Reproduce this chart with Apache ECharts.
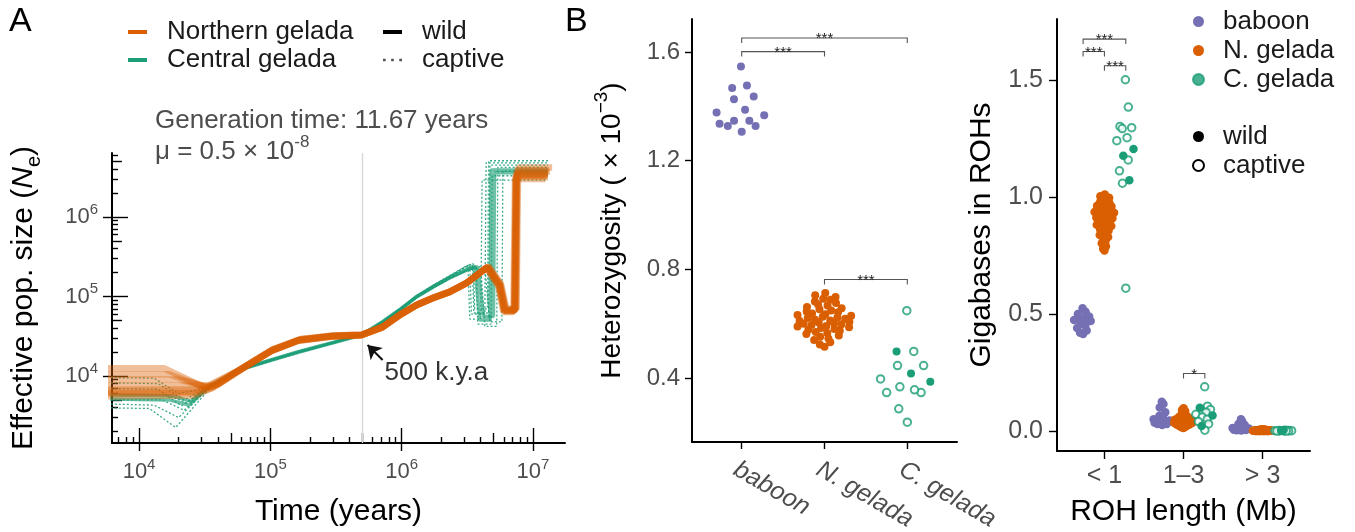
<!DOCTYPE html>
<html>
<head>
<meta charset="utf-8">
<script src="https://cdn.jsdelivr.net/npm/echarts@6/dist/echarts.min.js"></script>
<style>
  html, body { margin: 0; padding: 0; background: #fff; }
  #chart { width: 1355px; height: 532px; }
</style>
</head>
<body>
<div id="chart"></div>
<script>
// ---------------- Panel A: PSMC trajectories, points are [years, Ne] ----------------
const northernWild = [
  [[4000,6700],[28000,6800],[37000,7500],[58000,11900],[103000,21000],[166000,28400],[297000,31800],[495000,32800],[716000,41300],[966000,58500],[1300000,78000],[1730000,95700],[2320000,114000],[3130000,148000],[4500000,235000],[5600000,140000],[6100000,67000],[7300000,67000],[7500000,3400000],[13000000,3400000]],
  [[4000,12500],[15500,12500],[31000,7300],[40000,7900],[60000,12400],[105000,21800],[170000,29200],[300000,32400],[500000,33300],[720000,41800],[980000,60000],[1320000,80000],[1750000,97500],[2350000,116000],[3200000,152000],[4600000,240000],[5700000,145000],[6300000,69000],[7500000,69000],[7700000,4200000],[14000000,4200000]],
  [[4000,6000],[26000,6100],[36000,7000],[57000,11400],[100000,20300],[162000,27600],[292000,31200],[490000,32400],[710000,40600],[955000,57200],[1280000,76500],[1700000,94000],[2280000,112000],[3080000,145000],[4400000,228000],[5450000,135000],[5950000,64000],[7100000,64000],[7300000,3000000],[12500000,3000000]],
  [[4000,9000],[20000,9000],[33000,7400],[59000,12100],[104000,21400],[168000,28800],[299000,32100],[497000,33000],[718000,41700],[972000,59200],[1310000,79000],[1740000,96500],[2330000,115000],[3150000,150000],[4550000,238000],[5650000,142000],[6200000,68000],[7400000,68000],[7600000,3700000],[13500000,3700000]],
  [[4000,5500],[27000,5700],[36500,7200],[57500,11600],[102000,20700],[164000,28000],[295000,31500],[492000,32600],[712000,40900],[960000,57800],[1290000,77200],[1720000,94800],[2300000,113000],[3100000,146000],[4450000,232000],[5500000,138000],[6000000,66000],[7200000,66000],[7400000,3200000],[13000000,3200000]],
  [[4000,10500],[17000,10500],[32000,7200],[40000,7800],[59000,12000],[104000,21300],[167000,28700],[298000,32000],[496000,32900],[717000,41500],[970000,59000],[1305000,78600],[1735000,96000],[2325000,114500],[3140000,149000],[4520000,236000],[5620000,141000],[6150000,70000],[7350000,70000],[7550000,3900000],[13200000,3900000]],
  [[4000,7600],[25000,7600],[35000,7600],[58000,11800],[103000,20900],[165000,28200],[296000,31700],[494000,32700],[715000,41100],[964000,58200],[1295000,77600],[1725000,95200],[2310000,113500],[3120000,147000],[4480000,233000],[5580000,139000],[6080000,65000],[7250000,65000],[7450000,3550000],[13000000,3550000]],
  [[4000,6300],[27000,6400],[36000,7300],[57500,11700],[101000,20600],[163000,27900],[294000,31400],[491000,32500],[713000,40800],[962000,58000],[1292000,77400],[1722000,95000],[2305000,113300],[3110000,146500],[4470000,231000],[5520000,137000],[6050000,66500],[7220000,66500],[7420000,3300000],[12800000,3300000]]
];
const centralWild = [
  [[4000,5200],[17000,5000],[24000,4300],[34000,7300],[58000,11900],[103000,15900],[166000,20000],[297000,26000],[495000,32800],[716000,47700],[966000,67600],[1300000,98600],[1730000,131000],[2320000,171000],[3130000,215000],[3600000,242000],[3940000,50600],[4700000,50600],[4800000,3900000],[13000000,3900000]],
  [[4000,5800],[18000,5600],[25000,4800],[35000,7600],[59000,12100],[105000,16300],[168000,20500],[300000,26500],[500000,33300],[720000,48500],[975000,69000],[1310000,101000],[1750000,134000],[2340000,175000],[3150000,220000],[3800000,236000],[4200000,56000],[5000000,56000],[5100000,3600000],[13000000,3600000]]
];
const centralCaptive = [
  [[4000,9600],[13000,9400],[20000,6000],[33000,7000],[58000,12100],[103000,16400],[166000,20600],[297000,26500],[495000,33000],[716000,48800],[966000,70000],[1300000,103000],[1730000,138000],[2320000,183000],[3000000,235000],[3300000,252000],[3400000,60000],[4300000,60000],[4400000,4800000],[13000000,4800000]],
  [[4000,4000],[12000,3900],[19000,2250],[35000,7100],[58000,11700],[103000,15500],[166000,19600],[297000,25600],[495000,32500],[716000,47000],[966000,66000],[1300000,96500],[1730000,128000],[2320000,167000],[3130000,211000],[3700000,238000],[3800000,45000],[4800000,45000],[4900000,3300000],[13000000,3300000]],
  [[4000,7000],[14000,6800],[21000,4200],[33000,7100],[58000,12000],[103000,16100],[166000,20300],[297000,26200],[495000,32900],[716000,48200],[966000,69000],[1300000,101000],[1730000,136000],[2320000,180000],[3130000,240000],[3500000,262000],[3600000,70000],[4500000,70000],[4600000,5100000],[13000000,5100000]],
  [[4000,5000],[15000,5000],[22000,3700],[34000,7200],[58000,11800],[103000,15700],[166000,19800],[297000,25800],[495000,32600],[716000,47400],[966000,67000],[1300000,97500],[1730000,130000],[2320000,170000],[3130000,214000],[4000000,240000],[4300000,42000],[5300000,42000],[5400000,4200000],[13000000,4200000]],
  [[4000,8300],[14000,8000],[22000,5000],[34000,7200],[58000,12000],[103000,16000],[166000,20200],[297000,26100],[495000,32800],[716000,48000],[966000,68500],[1300000,100000],[1730000,134000],[2320000,176000],[3000000,232000],[3200000,245000],[3300000,52000],[4000000,52000],[4100000,2900000],[13000000,2900000]],
  [[4000,6000],[16000,5800],[23000,4600],[34000,7300],[58000,11900],[103000,15800],[166000,19900],[297000,25900],[495000,32700],[716000,47500],[966000,67300],[1300000,98000],[1730000,130000],[2320000,169000],[3130000,212000],[4300000,230000],[4700000,48000],[5800000,48000],[5900000,3800000],[13000000,3800000]],
  [[4000,4500],[13000,4300],[20000,3000],[34000,7000],[58000,11800],[103000,15900],[166000,20100],[297000,26000],[495000,32800],[716000,48400],[966000,69500],[1300000,102000],[1730000,137000],[2320000,181000],[3130000,238000],[3450000,255000],[3550000,62000],[4600000,62000],[4700000,4500000],[13000000,4500000]]
];
const timeTicks = [1e4, 1e5, 1e6, 1e7];
const neTicks = [1e4, 1e5, 1e6];
const timeRange = [6223, 1.754e7];
const neRange = [1435, 6.38e6];
const splitTime = 5e5;                       // 500 k.y.a reference line
const arrowFrom = [716000, 15900];           // annotation arrow, [years, Ne]
const arrowTo = [550000, 24500];
const arrowText = [741000, 10900];

// ---------------- Panel B: heterozygosity (x 10^-3) ----------------
const hetCategories = ['baboon', 'N. gelada', 'C. gelada'];
const hetBaboon = [1.546,1.467,1.476,1.426,1.436,1.377,1.387,1.367,1.336,1.347,1.347,1.327,1.327,1.306];
const hetNorthern = [0.713,0.705,0.698,0.692,0.688,0.682,0.676,0.671,0.667,0.662,0.657,0.653,0.649,0.645,0.642,0.638,0.635,0.632,0.629,0.626,0.623,0.621,0.618,0.615,0.612,0.610,0.607,0.605,0.602,0.600,0.598,0.595,0.592,0.590,0.587,0.584,0.581,0.578,0.574,0.570,0.566,0.562,0.557,0.552,0.546,0.540,0.532,0.524,0.515];
const hetCentralWild = [0.498,0.417,0.387];
const hetCentralCaptive = [0.648,0.498,0.446,0.446,0.397,0.368,0.347,0.357,0.347,0.287,0.238];
const hetTicks = [0.4, 0.8, 1.2, 1.6];
const hetRange = [0.165, 1.721];
const hetBracketSpans = [[1, 2, 1.601], [1, 3, 1.651], [2, 3, 0.763]];
const hetBracketLabels = ['***', '***', '***'];

// ---------------- Panel C: gigabases in ROHs by ROH length ----------------
const rohCategories = ['< 1', '1\u20133', '> 3'];
const rohBaboon = [
  [0.525,0.51,0.50,0.49,0.485,0.48,0.475,0.47,0.46,0.45,0.44,0.43,0.42,0.415],
  [0.125,0.115,0.10,0.08,0.065,0.055,0.05,0.045,0.04,0.035,0.035,0.03,0.03,0.025],
  [0.05,0.04,0.03,0.025,0.02,0.015,0.012,0.01,0.008,0.006,0.005,0.004,0.003,0.002]
];
const rohNorthern = [
  [1.012,1.004,0.998,0.992,0.987,0.982,0.977,0.972,0.968,0.964,0.960,0.956,0.952,0.949,0.946,0.943,0.940,0.937,0.934,0.931,0.928,0.925,0.922,0.919,0.916,0.913,0.910,0.906,0.902,0.898,0.894,0.890,0.886,0.882,0.877,0.872,0.867,0.862,0.857,0.851,0.845,0.838,0.830,0.822,0.813,0.803,0.790,0.780,0.772],
  [0.097,0.09,0.085,0.08,0.075,0.07,0.068,0.065,0.062,0.06,0.058,0.056,0.055,0.053,0.052,0.05,0.05,0.048,0.047,0.046,0.045,0.045,0.044,0.043,0.042,0.041,0.04,0.04,0.039,0.038,0.037,0.036,0.035,0.035,0.034,0.033,0.032,0.031,0.03,0.029,0.028,0.027,0.026,0.025,0.023,0.021,0.019,0.016,0.012],
  [0.007,0.006,0.006,0.005,0.005,0.005,0.004,0.004,0.004,0.004,0.004,0.003,0.003,0.003,0.003,0.003,0.003,0.003,0.002,0.002,0.002,0.002,0.002,0.002,0.002,0.002,0.002,0.001,0.001,0.001,0.001,0.001,0.001,0.001,0.001,0.001,0.001,0.001,0.0,0.0,0.0,0.0,0.0,0.0,0.0,0.0,0.0,0.0,0.0]
];
const rohCentralWild = [
  [1.207,1.178,1.073],
  [0.099,0.066,0.021],
  [0.004,0.002,0.001]
];
const rohCentralCaptive = [
  [1.503,1.386,1.298,1.303,1.294,1.255,1.242,1.160,1.113,1.060,0.611],
  [0.189,0.106,0.089,0.092,0.080,0.071,0.060,0.050,0.040,0.030,0.003],
  [0.003,0.002,0.002,0.001,0.001,0.0,0.0,0.0,0.0,0.001,0.0]
];
const rohTicks = [0.0, 0.5, 1.0, 1.5];
const rohRange = [-0.086, 1.763];
const rohBracketSpans = [[0.73, 1.27, 1.677], [0.73, 1.0, 1.624], [1.0, 1.27, 1.563], [2.0, 2.27, 0.246]];
const rohBracketLabels = ['***', '***', '***', '*'];

// ---------------- styling ----------------
const FONT = '"Liberation Sans", Arial, Helvetica, sans-serif';
const COL_BABOON = '#7570B3';
const COL_NORTH = '#D95F02';
const COL_CENTRAL = '#1B9E77';
const GREY_TEXT = '#4d4d4d';
const DODGE = 0.27;

const L10 = Math.log10;
const toLog = pts => pts.map(([t, n]) => [L10(t), L10(n)]);

// log-tick positions (annotation_logticks style)
const decades = [3, 4, 5, 6, 7];
const logMajor = decades;
const logMid = decades.map(k => k + L10(5));
const logMinor = [];
decades.forEach(k => [2, 3, 4, 6, 7, 8, 9].forEach(m => logMinor.push(k + L10(m))));

// quasirandom (van der Corput) horizontal offsets, scaled by local density
function vdc(n) {
  let v = 0, d = 1;
  while (n > 0) { d *= 2; v += (n % 2) / d; n = Math.floor(n / 2); }
  return v;
}
function quasiOffsets(values, width) {
  const n = values.length;
  const mean = values.reduce((a, b) => a + b, 0) / n;
  const sd = Math.sqrt(values.reduce((a, b) => a + (b - mean) * (b - mean), 0) / Math.max(1, n - 1));
  let bw = 1.06 * sd * Math.pow(n, -0.2);
  if (!(bw > 1e-4)) bw = 1;
  const dens = values.map(v => values.reduce((s, w) => s + Math.exp(-0.5 * ((v - w) / bw) ** 2), 0));
  const maxD = Math.max(...dens);
  const order = values.map((v, i) => i).sort((a, b) => values[a] - values[b]);
  const off = new Array(n);
  order.forEach((idx, r) => { off[idx] = (vdc(r + 1) * 2 - 1) * width * dens[idx] / maxD; });
  return off;
}
function swarm(values, center, width) {
  const off = quasiOffsets(values, width);
  return values.map((v, i) => [center + off[i], v]);
}
function swarmSplit(wild, captive, center, width) {
  const pts = swarm(wild.concat(captive), center, width);
  return [pts.slice(0, wild.length), pts.slice(wild.length)];
}

// ---------------- axes ----------------
const tickLine = { color: '#000', width: 1.4 };
const logRich = {
  b: { fontSize: 22, color: GREY_TEXT, lineHeight: 30, fontFamily: FONT },
  s: { fontSize: 15, color: GREY_TEXT, lineHeight: 12, verticalAlign: 'top', fontFamily: FONT }
};
const X_A = [L10(timeRange[0]), L10(timeRange[1])];
const Y_A = [L10(neRange[0]), L10(neRange[1])];

function innerLogAxis(dim, values, len) {
  const ext = dim === 'x' ? X_A : Y_A;
  return {
    type: 'value', gridIndex: 0, min: ext[0], max: ext[1],
    position: dim === 'x' ? 'bottom' : 'left',
    axisLine: { show: false, onZero: false },
    axisLabel: { show: false },
    splitLine: { show: false },
    axisTick: { show: true, inside: true, length: len, customValues: values, lineStyle: tickLine }
  };
}

const xAxes = [
  {
    type: 'value', gridIndex: 0, min: X_A[0], max: X_A[1], position: 'bottom',
    axisLine: { show: true, onZero: false, lineStyle: { color: '#000', width: 2 } },
    axisTick: { show: true, inside: false, length: 8, customValues: timeTicks.map(L10), lineStyle: tickLine },
    axisLabel: { customValues: timeTicks.map(L10), margin: 14, formatter: v => '{b|10}{s|' + Math.round(v) + '}', rich: logRich },
    splitLine: { show: false },
    name: 'Time (years)', nameLocation: 'middle', nameGap: 54,
    nameTextStyle: { fontSize: 30, color: '#000', fontFamily: FONT }
  },
  innerLogAxis('x', logMajor, 15),
  innerLogAxis('x', logMid, 10),
  innerLogAxis('x', logMinor, 6),
  {
    type: 'value', gridIndex: 1, min: 0.4, max: 3.6, position: 'bottom',
    axisLine: { show: true, onZero: false, lineStyle: { color: '#000', width: 2 } },
    axisTick: { show: true, length: 7, customValues: [1, 2, 3], lineStyle: tickLine },
    axisLabel: {
      customValues: [1, 2, 3], formatter: v => hetCategories[Math.round(v) - 1],
      rotate: -30, align: 'left', verticalAlign: 'top', margin: 15,
      fontSize: 25, fontStyle: 'italic', color: GREY_TEXT, fontFamily: FONT
    },
    splitLine: { show: false }
  },
  {
    type: 'value', gridIndex: 2, min: 0.4, max: 3.6, position: 'bottom',
    axisLine: { show: true, onZero: false, lineStyle: { color: '#000', width: 2 } },
    axisTick: { show: true, length: 8, customValues: [1, 2, 3], lineStyle: tickLine },
    axisLabel: {
      customValues: [1, 2, 3], formatter: v => rohCategories[Math.round(v) - 1],
      margin: 13, fontSize: 25, color: GREY_TEXT, fontFamily: FONT
    },
    splitLine: { show: false },
    name: 'ROH length (Mb)', nameLocation: 'middle', nameGap: 46,
    nameTextStyle: { fontSize: 30, color: '#000', fontFamily: FONT }
  }
];

const yAxes = [
  {
    type: 'value', gridIndex: 0, min: Y_A[0], max: Y_A[1], position: 'left',
    axisLine: { show: true, onZero: false, lineStyle: { color: '#000', width: 2 } },
    axisTick: { show: true, inside: false, length: 9, customValues: neTicks.map(L10), lineStyle: tickLine },
    axisLabel: { customValues: neTicks.map(L10), margin: 14, formatter: v => '{b|10}{s|' + Math.round(v) + '}', rich: logRich },
    splitLine: { show: false },
    name: 'Effective pop. size ({it|N}{sub|e})', nameLocation: 'middle', nameGap: 68, nameRotate: 90,
    nameTextStyle: {
      fontSize: 30, color: '#000', fontFamily: FONT, lineHeight: 40,
      rich: {
        it: { fontSize: 30, fontStyle: 'italic', color: '#000', fontFamily: FONT, lineHeight: 40 },
        sub: { fontSize: 20, color: '#000', fontFamily: FONT, lineHeight: 18, verticalAlign: 'bottom' }
      }
    }
  },
  innerLogAxis('y', logMajor, 16),
  innerLogAxis('y', logMid, 10),
  innerLogAxis('y', logMinor, 6),
  {
    type: 'value', gridIndex: 1, min: hetRange[0], max: hetRange[1], position: 'left',
    axisLine: { show: true, onZero: false, lineStyle: { color: '#000', width: 2 } },
    axisTick: { show: true, length: 7, customValues: hetTicks, lineStyle: tickLine },
    axisLabel: { customValues: hetTicks, formatter: v => v.toFixed(1), margin: 12, fontSize: 24, color: GREY_TEXT, fontFamily: FONT },
    splitLine: { show: false },
    name: 'Heterozygosity ( \u00d7 10{sup|\u22123})', nameLocation: 'middle', nameGap: 60, nameRotate: 90,
    nameTextStyle: {
      fontSize: 28, color: '#000', fontFamily: FONT, lineHeight: 40,
      rich: { sup: { fontSize: 19, color: '#000', fontFamily: FONT, lineHeight: 16, verticalAlign: 'top' } }
    }
  },
  {
    type: 'value', gridIndex: 2, min: rohRange[0], max: rohRange[1], position: 'left',
    axisLine: { show: true, onZero: false, lineStyle: { color: '#000', width: 2 } },
    axisTick: { show: true, length: 8, customValues: rohTicks, lineStyle: tickLine },
    axisLabel: { customValues: rohTicks, formatter: v => v.toFixed(1), margin: 14, fontSize: 25, color: GREY_TEXT, fontFamily: FONT },
    splitLine: { show: false },
    name: 'Gigabases in ROHs', nameLocation: 'middle', nameGap: 60, nameRotate: 90,
    nameTextStyle: { fontSize: 30, color: '#000', fontFamily: FONT }
  }
];

// ---------------- series ----------------
const series = [];

function psmc(curves, name, lineStyle, extra) {
  curves.forEach((c, i) => {
    series.push(Object.assign({
      type: 'line', name, xAxisIndex: 0, yAxisIndex: 0,
      data: toLog(c), showSymbol: false, symbol: 'none', silent: true,
      lineStyle, z: 2
    }, i === 0 ? (extra || {}) : {}));
  });
}

psmc(centralWild, 'Central gelada', { color: COL_CENTRAL, width: 3.5, opacity: 0.65 }, {
  markLine: {
    silent: true, symbol: 'none', z: 1, animation: false,
    label: { show: false },
    lineStyle: { color: '#d6d6d6', width: 1.3, type: 'solid' },
    data: [{ xAxis: L10(splitTime) }]
  }
});
psmc(centralCaptive, 'Central gelada', { color: COL_CENTRAL, width: 1.3, type: [2, 2], opacity: 0.85 });
psmc(northernWild, 'Northern gelada', { color: COL_NORTH, width: 6.5, opacity: 0.4 });

// annotation arrow and its label, placed in data space
series.push({
  type: 'line', xAxisIndex: 0, yAxisIndex: 0, data: [], silent: true,
  markLine: {
    silent: true, symbol: ['none', 'arrow'], symbolSize: 13, z: 10, animation: false,
    label: { show: false },
    itemStyle: { color: '#111' },
    lineStyle: { color: '#111', width: 2, type: 'solid', opacity: 1 },
    data: [[{ coord: [L10(arrowFrom[0]), L10(arrowFrom[1])] }, { coord: [L10(arrowTo[0]), L10(arrowTo[1])] }]]
  },
  markPoint: {
    silent: true, symbol: 'circle', symbolSize: 0, animation: false,
    label: { show: true, position: 'right', distance: 0, formatter: '500 k.y.a', fontSize: 26, color: '#333', fontFamily: FONT },
    data: [{ coord: [L10(arrowText[0]), L10(arrowText[1])] }]
  }
});
// line-type keys for the legend
series.push({ type: 'line', name: 'wild', xAxisIndex: 0, yAxisIndex: 0, data: [], lineStyle: { color: '#000' } });
series.push({ type: 'line', name: 'captive', xAxisIndex: 0, yAxisIndex: 0, data: [], lineStyle: { color: '#000', type: 'dotted' } });

function dots(name, data, xi, color, open, size) {
  series.push({
    type: 'scatter', name, xAxisIndex: xi, yAxisIndex: xi, data, silent: true,
    symbol: open ? 'emptyCircle' : 'circle', symbolSize: size,
    itemStyle: open ? { color, borderColor: color, borderWidth: 1.4 } : { color, opacity: 1 },
    z: 3
  });
}

// Panel B
const hetW = 0.37;
dots('baboon', swarm(hetBaboon, 1, hetW), 4, COL_BABOON, false, 8);
dots('N. gelada', swarm(hetNorthern, 2, hetW), 4, COL_NORTH, false, 8);
const [hetCw, hetCc] = swarmSplit(hetCentralWild, hetCentralCaptive, 3, hetW);
dots('C. gelada', hetCc, 4, COL_CENTRAL, true, 7.5);
dots('C. gelada', hetCw, 4, COL_CENTRAL, false, 8);

// Panel C
const rohW = 0.13;
rohCategories.forEach((c, k) => {
  const center = k + 1;
  dots('baboon', swarm(rohBaboon[k], center - DODGE, rohW), 5, COL_BABOON, false, 8.5);
  dots('N. gelada', swarm(rohNorthern[k], center, rohW), 5, COL_NORTH, false, 8.5);
  const [w, cpt] = swarmSplit(rohCentralWild[k], rohCentralCaptive[k], center + DODGE, rohW);
  dots('C. gelada', cpt, 5, COL_CENTRAL, true, 7.5);
  dots('C. gelada', w, 5, COL_CENTRAL, false, 8.5);
});

// significance brackets
function brackets(spans, labels, axisIndex) {
  series.push({
    type: 'custom', xAxisIndex: axisIndex, yAxisIndex: axisIndex, silent: true, z: 4,
    data: spans, encode: { x: [0, 1], y: 2 },
    renderItem: (params, api) => {
      const p1 = api.coord([api.value(0), api.value(2)]);
      const p2 = api.coord([api.value(1), api.value(2)]);
      return {
        type: 'group',
        children: [
          { type: 'polyline', shape: { points: [[p1[0], p1[1] + 5], p1, p2, [p2[0], p2[1] + 5]] },
            style: { stroke: '#555', lineWidth: 1.1, fill: null } },
          { type: 'text', style: { text: labels[params.dataIndex], x: (p1[0] + p2[0]) / 2, y: p1[1] + 1,
            align: 'center', verticalAlign: 'middle', fontSize: 15, fill: '#222', fontFamily: FONT } }
        ]
      };
    }
  });
}
brackets(hetBracketSpans, hetBracketLabels, 4);
brackets(rohBracketSpans, rohBracketLabels, 5);

// ---------------- legends ----------------
const legendText = (padLeft, lh) => ({ fontSize: 26, color: '#1a1a1a', fontFamily: FONT, lineHeight: lh, padding: [0, 0, 0, padLeft] });
const legends = [
  {
    left: 128, top: 18, orient: 'vertical', itemWidth: 19, itemHeight: 4, itemGap: 0, padding: 0,
    selectedMode: false, textStyle: legendText(15, 28),
    data: [
      { name: 'Northern gelada', icon: 'rect', itemStyle: { color: COL_NORTH, opacity: 1 } },
      { name: 'Central gelada', icon: 'rect', itemStyle: { color: COL_CENTRAL, opacity: 1 } }
    ]
  },
  {
    left: 383, top: 18, orient: 'vertical', itemWidth: 19, itemHeight: 4, itemGap: 0, padding: 0,
    selectedMode: false, textStyle: legendText(15, 28),
    data: [
      { name: 'wild', icon: 'rect', itemStyle: { color: '#000' } },
      { name: 'captive', icon: 'path://M0,0h2v2h-2zM6,0h2v2h-2zM12,0h2v2h-2z', itemStyle: { color: '#555' } }
    ]
  },
  {
    left: 1192, top: 7, orient: 'vertical', itemWidth: 11, itemHeight: 11, itemGap: 0, padding: 0,
    selectedMode: false, textStyle: legendText(14, 29),
    data: [
      { name: 'baboon', icon: 'circle', itemStyle: { color: COL_BABOON } },
      { name: 'N. gelada', icon: 'circle', itemStyle: { color: COL_NORTH } },
      { name: 'C. gelada', icon: 'circle', itemStyle: { color: COL_CENTRAL } }
    ]
  },
  {
    left: 1192, top: 122, orient: 'vertical', itemWidth: 11, itemHeight: 11, itemGap: 0, padding: 0,
    selectedMode: false, textStyle: legendText(14, 29),
    data: [
      { name: 'wild', icon: 'circle', itemStyle: { color: '#000' } },
      { name: 'captive', icon: 'emptyCircle', itemStyle: { color: '#000' } }
    ]
  }
];

const option = {
  animation: false,
  backgroundColor: '#fff',
  textStyle: { fontFamily: FONT },
  title: [
    { text: 'A', left: 9, top: 5, padding: 0, textStyle: { fontSize: 34, fontWeight: 'normal', color: '#000', fontFamily: FONT } },
    { text: 'B', left: 565, top: 5, padding: 0, textStyle: { fontSize: 34, fontWeight: 'normal', color: '#000', fontFamily: FONT } }
  ],
  grid: [
    { left: 112, top: 153, right: 790, bottom: 89, outerBoundsMode: 'none', containLabel: false },
    { left: 692, top: 19, right: 398, bottom: 90, outerBoundsMode: 'none', containLabel: false },
    { left: 1057, top: 19, right: 45, bottom: 81, outerBoundsMode: 'none', containLabel: false }
  ],
  xAxis: xAxes,
  yAxis: yAxes,
  legend: legends,
  graphic: [
    { type: 'text', left: 155, top: 108, silent: true,
      style: { text: 'Generation time: 11.67 years', fontSize: 26, fill: GREY_TEXT, fontFamily: FONT } },
    { type: 'text', left: 155, top: 134, silent: true,
      style: {
        text: '{m|\u03bc = 0.5 \u00d7 10}{s|-8}',
        rich: {
          m: { fontSize: 26, fill: GREY_TEXT, color: GREY_TEXT, fontFamily: FONT, lineHeight: 36 },
          s: { fontSize: 17, fill: GREY_TEXT, color: GREY_TEXT, fontFamily: FONT, lineHeight: 14, verticalAlign: 'top' }
        }
      } }
  ],
  series
};

const chart = echarts.init(document.getElementById('chart'), null, { renderer: 'canvas' });
chart.setOption(option);
</script>
</body>
</html>
